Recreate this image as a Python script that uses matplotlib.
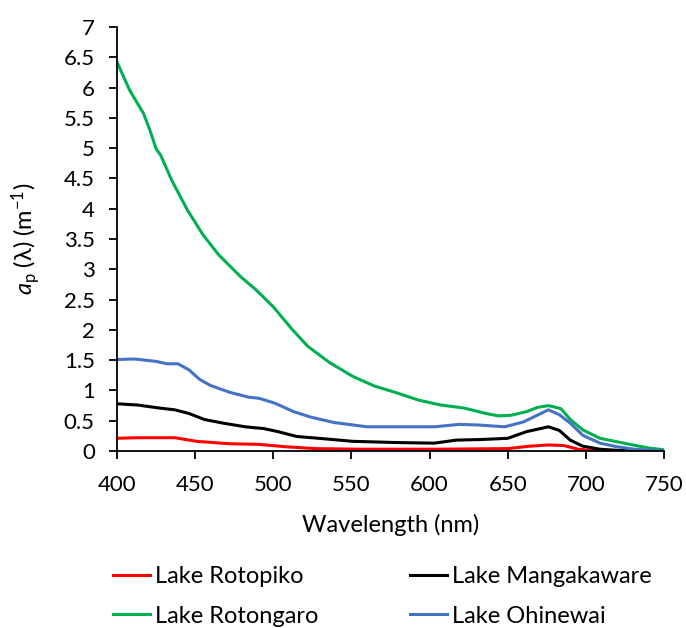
import matplotlib.pyplot as plt

plt.rcParams['font.family'] = ['Lato', 'DejaVu Sans']
plt.rcParams['mathtext.fontset'] = 'custom'
plt.rcParams['mathtext.rm'] = 'Lato'
plt.rcParams['mathtext.it'] = 'Lato:italic'

# particulate absorption spectra, read per lake
wl_rotopiko = [400, 413, 437, 451, 472, 491, 508, 527, 555, 603, 650, 664, 676, 686, 695, 709, 750]
ap_rotopiko = [0.21, 0.22, 0.22, 0.16, 0.12, 0.11, 0.07, 0.04, 0.03, 0.03, 0.04, 0.08, 0.10, 0.09, 0.03, 0.0, 0.0]

wl_mangakaware = [400, 413, 427, 437, 446, 456, 468, 482, 494, 503, 515, 529, 551, 579, 603,
                  617, 633, 650, 662, 676, 683, 690, 698, 709, 721, 750]
ap_mangakaware = [0.78, 0.76, 0.71, 0.68, 0.62, 0.52, 0.46, 0.40, 0.37, 0.32, 0.24, 0.21, 0.16, 0.14, 0.13,
                  0.18, 0.19, 0.21, 0.32, 0.40, 0.34, 0.18, 0.08, 0.03, 0.01, 0.0]

wl_rotongaro = [400, 408, 417, 421, 425, 428, 435, 445, 455, 465, 479, 489, 500, 512, 522, 536,
                551, 565, 579, 593, 607, 622, 636, 644, 652, 662, 669, 676, 684, 690, 698, 709,
                730, 740, 750]
ap_rotongaro = [6.42, 5.96, 5.57, 5.30, 4.99, 4.88, 4.47, 3.98, 3.57, 3.24, 2.88, 2.66, 2.38, 2.01, 1.73, 1.46,
                1.23, 1.07, 0.96, 0.84, 0.76, 0.71, 0.62, 0.58, 0.59, 0.65, 0.72, 0.75, 0.70, 0.52, 0.35, 0.21,
                0.10, 0.05, 0.02]

wl_ohinewai = [400, 411, 425, 432, 439, 446, 453, 460, 472, 484, 491, 501, 513, 524, 539, 560,
               579, 603, 619, 631, 648, 660, 676, 683, 690, 698, 709, 720, 731, 750]
ap_ohinewai = [1.51, 1.52, 1.48, 1.44, 1.44, 1.34, 1.18, 1.08, 0.97, 0.89, 0.87, 0.79, 0.65, 0.56, 0.47, 0.40,
               0.40, 0.40, 0.44, 0.43, 0.40, 0.48, 0.68, 0.60, 0.46, 0.26, 0.13, 0.07, 0.03, 0.0]

fig = plt.figure(figsize=(6.86, 6.28), dpi=100)
ax = fig.add_axes([0.1706, 0.2818, 0.7974, 0.6752])

lw = 2.2
ax.plot(wl_rotopiko, ap_rotopiko, color='#FF0000', lw=lw, label='Lake Rotopiko')
ax.plot(wl_mangakaware, ap_mangakaware, color='black', lw=lw, label='Lake Mangakaware')
ax.plot(wl_rotongaro, ap_rotongaro, color='#00B050', lw=lw, label='Lake Rotongaro')
ax.plot(wl_ohinewai, ap_ohinewai, color='#4472C4', lw=lw, label='Lake Ohinewai')

ax.set_xlim(400, 750)
ax.set_ylim(0, 7)
ax.set_xticks(range(400, 751, 50))
ax.set_yticks([i * 0.5 for i in range(15)])
ax.set_yticklabels(['0', '0.5', '1', '1.5', '2', '2.5', '3', '3.5', '4', '4.5', '5', '5.5', '6', '6.5', '7'])
ax.tick_params(labelsize=16, length=6, width=1.3, direction='out', color='black')
ax.tick_params(axis='x', pad=11)
ax.tick_params(axis='y', pad=10)
for s in ['top', 'right']:
    ax.spines[s].set_visible(False)
for s in ['left', 'bottom']:
    ax.spines[s].set_linewidth(1.3)

ax.set_xlabel('Wavelength (nm)', fontsize=17, labelpad=14)
ax.set_ylabel(r'$\mathit{a}_\mathrm{p}$ (λ) (m$^{-1}$)', fontsize=17, labelpad=15)

h, l = ax.get_legend_handles_labels()
leg_kw = dict(frameon=False, fontsize=17, loc='center left', borderpad=0, borderaxespad=0,
              handlelength=1.57, handletextpad=0.22, labelspacing=0.78)
fig.legend([h[0], h[2]], [l[0], l[2]], bbox_to_anchor=(113 / 686, 0.0502), **leg_kw)
fig.legend([h[1], h[3]], [l[1], l[3]], bbox_to_anchor=(410 / 686, 0.0502), **leg_kw)

fig.savefig('out.png', dpi=100)
